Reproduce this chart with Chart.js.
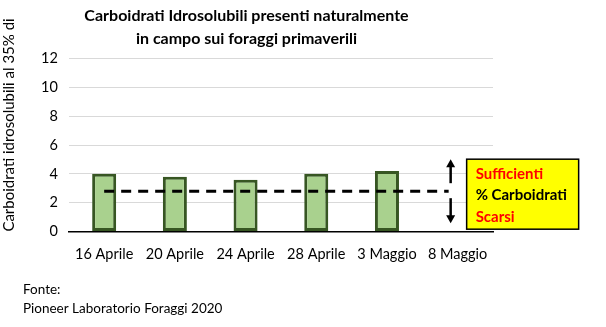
<!DOCTYPE html>
<html>
<head>
<meta charset="utf-8">
<script src="https://cdn.jsdelivr.net/npm/chart.js@4"></script>
<style>
html, body { margin: 0; padding: 0; background: #fff; }
#wrap { width: 606px; height: 327px; position: relative; }
</style>
</head>
<body>
<div id="wrap"><canvas id="myChart"></canvas></div>
<script>
var categorie = ['16 Aprile', '20 Aprile', '24 Aprile', '28 Aprile', '3 Maggio', '8 Maggio'];
var carboidrati = [4.0, 3.8, 3.6, 4.0, 4.2, null];
var soglia = 2.8;
var titolo = ['Carboidrati Idrosolubili presenti naturalmente', 'in campo sui foraggi primaverili'];
var titoloAsseY = 'Carboidrati idrosolubili al 35% di';
var legenda = ['Sufficienti', '% Carboidrati', 'Scarsi'];
var fonte = ['Fonte:', 'Pioneer Laboratorio Foraggi 2020'];

function freccia(ctx, x, y1, y2) {
    // line from y1 to y2 with head at y2
    var dir = y2 > y1 ? 1 : -1;
    ctx.beginPath();
    ctx.moveTo(x, y1);
    ctx.lineTo(x, y2 - dir * 6);
    ctx.stroke();
    ctx.beginPath();
    ctx.moveTo(x, y2);
    ctx.lineTo(x - 4.5, y2 - dir * 8);
    ctx.lineTo(x + 4.5, y2 - dir * 8);
    ctx.closePath();
    ctx.fill();
}

var extra = {
    id: 'extra',
    afterDatasetsDraw: function(chart) {
        var ctx = chart.ctx;
        var xs = chart.scales.x, ys = chart.scales.y;
        var yS = ys.getPixelForValue(soglia);
        var x0 = xs.getPixelForValue(0);
        var x1 = xs.getPixelForValue(5) - 9;

        ctx.save();
        // dashed threshold
        ctx.strokeStyle = '#000';
        ctx.lineWidth = 3;
        ctx.setLineDash([10, 7]);
        ctx.beginPath();
        ctx.moveTo(x0, yS);
        ctx.lineTo(x1, yS);
        ctx.stroke();
        ctx.setLineDash([]);

        // arrows
        ctx.fillStyle = '#000';
        ctx.lineWidth = 2.5;
        freccia(ctx, x1 + 2, yS - 8, yS - 32);
        freccia(ctx, x1 + 2, yS + 7, yS + 32);

        // yellow box
        var bx = x1 + 18, by = yS - 32, bw = 112, bh = 70;
        ctx.fillStyle = '#ffff00';
        ctx.fillRect(bx, by, bw, bh);
        ctx.strokeStyle = '#000';
        ctx.lineWidth = 1.5;
        ctx.strokeRect(bx, by, bw, bh);

        ctx.font = 'bold 15px Lato';
        ctx.textBaseline = 'middle';
        ctx.textAlign = 'left';
        ctx.fillStyle = '#ff0000';
        ctx.fillText(legenda[0], bx + 9, by + 15);
        ctx.fillStyle = '#000';
        ctx.fillText(legenda[1], bx + 9, by + 36);
        ctx.fillStyle = '#ff0000';
        ctx.fillText(legenda[2], bx + 9, by + 58);

        // source
        ctx.fillStyle = '#000';
        ctx.font = '13.5px Lato';
        ctx.fillText(fonte[0], 23, 290);
        ctx.fillText(fonte[1], 23, 309);
        ctx.restore();
    }
};

var myChart = new Chart(
    document.getElementById('myChart'),
    {
        type: 'bar',
        data: {
            labels: categorie,
            datasets: [{
                data: carboidrati,
                backgroundColor: '#a9d18e',
                borderColor: '#375623',
                borderWidth: 3,
                borderSkipped: false,
                categoryPercentage: 1,
                barPercentage: 0.34
            }]
        },
        options: {
            responsive: true,
            maintainAspectRatio: false,
            animation: false,
            layout: { padding: { left: 0, right: 113, top: 0, bottom: 58 } },
            plugins: {
                legend: { display: false },
                tooltip: { enabled: false },
                title: {
                    display: true,
                    text: titolo,
                    color: '#000',
                    font: { family: 'Lato', size: 16, weight: 'bold', lineHeight: 1.45 },
                    padding: { top: 4, bottom: 8 }
                }
            },
            scales: {
                x: {
                    grid: { display: false },
                    border: { color: '#000', width: 1.5 },
                    ticks: { color: '#000', font: { family: 'Lato', size: 14.5 }, padding: 6, maxRotation: 0 }
                },
                y: {
                    min: 0,
                    max: 12,
                    ticks: { stepSize: 2, color: '#000', font: { family: 'Lato', size: 14.5 }, padding: 11 },
                    grid: { color: '#d9d9d9', drawTicks: false },
                    border: { display: false },
                    title: {
                        display: true,
                        text: titoloAsseY,
                        align: 'start',
                        color: '#000',
                        font: { family: 'Lato', size: 15 },
                        padding: { top: 0, bottom: 12 }
                    }
                }
            }
        },
        plugins: [extra]
    }
);
</script>
</body>
</html>
